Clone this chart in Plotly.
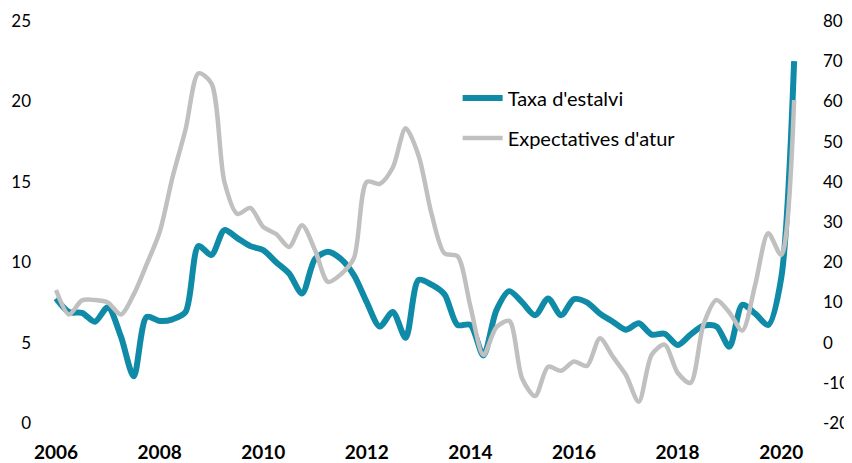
import plotly.graph_objects as go

years = [2006 + q / 4 for q in range(58)]

taxa_estalvi = [
    7.75, 6.9, 6.85, 6.3, 7.2, 5.4, 2.9, 6.6,
    6.35, 6.45, 6.9, 11.0, 10.45, 12.0, 11.5, 11.0,
    10.75, 10.0, 9.3, 8.05, 10.2, 10.65, 10.2, 9.2,
    7.5, 6.0, 6.9, 5.3, 8.9, 8.6, 8.0, 6.1,
    6.1, 4.2, 7.0, 8.2, 7.5, 6.7, 7.75, 6.7,
    7.7, 7.5, 6.8, 6.3, 5.8, 6.2, 5.5, 5.55,
    4.85, 5.5, 6.05, 6.0, 4.75, 7.35, 6.8, 6.1,
    9.0, 22.5,
]

expectatives_atur = [
    13.1, 7.0, 10.5, 10.6, 10.0, 7.0, 12.0, 19.5,
    27.5, 41.2, 53.0, 67.0, 64.5, 40.0, 32.0, 33.5,
    28.8, 27.0, 23.8, 29.2, 23.0, 15.1, 17.0, 21.0,
    40.0, 39.5, 43.5, 53.3, 46.5, 32.0, 22.2, 21.5,
    9.0, -3.1, 3.8, 5.4, -9.0, -13.3, -6.0, -7.0,
    -4.7, -5.8, 1.1, -3.5, -8.0, -14.7, -3.0, -0.5,
    -7.5, -10.0, 4.5, 10.6, 7.5, 3.0, 14.5, 27.2,
    21.8, 60.3,
]

x_ticks = [2006, 2008, 2010, 2012, 2014, 2016, 2018, 2020]
left_ticks = [0, 5, 10, 15, 20, 25]
right_ticks = [-20, -10, 0, 10, 20, 30, 40, 50, 60, 70, 80]

FONT = "Lato, 'Open Sans', sans-serif"

fig = go.Figure()
fig.add_trace(go.Scatter(
    x=years, y=taxa_estalvi, name="Taxa d'estalvi", mode="lines",
    line=dict(color="#0f8ba8", width=6, shape="spline", smoothing=0.8),
    legendgroup="a", yaxis="y",
))
fig.add_trace(go.Scatter(
    x=years, y=expectatives_atur, name="Expectatives d'atur", mode="lines",
    line=dict(color="#c0c0c0", width=4.5, shape="spline", smoothing=0.8),
    legendgroup="b", yaxis="y2",
))

fig.update_layout(
    width=852, height=463,
    margin=dict(l=32, r=48, t=13, b=48),
    paper_bgcolor="white", plot_bgcolor="white",
    font=dict(family=FONT, size=17, color="#000000"),
    showlegend=True,
    legend=dict(
        x=0.541, y=0.857, xanchor="left", yanchor="top",
        bgcolor="rgba(0,0,0,0)", font=dict(size=20),
        traceorder="grouped", tracegroupgap=11, itemwidth=40,
    ),
    xaxis=dict(
        range=[2005.69, 2020.595], tickvals=x_ticks,
        ticktext=[str(v) for v in x_ticks],
        tickfont=dict(size=19, family=FONT, weight="bold"),
        showgrid=False, zeroline=False, showline=False, ticks="",
        ticklabelstandoff=16, automargin=False,
    ),
    yaxis=dict(
        range=[0, 25], tickvals=left_ticks, showgrid=False, zeroline=False,
        showline=False, ticks="", ticklabelstandoff=8, automargin=False,
    ),
    yaxis2=dict(
        range=[-20, 80], tickvals=right_ticks,
        ticktext=[str(v) for v in right_ticks],
        overlaying="y", side="right",
        showgrid=False, zeroline=False, showline=False, ticks="",
        ticklabelstandoff=10, automargin=False,
    ),
)

fig.write_html("out.html")
